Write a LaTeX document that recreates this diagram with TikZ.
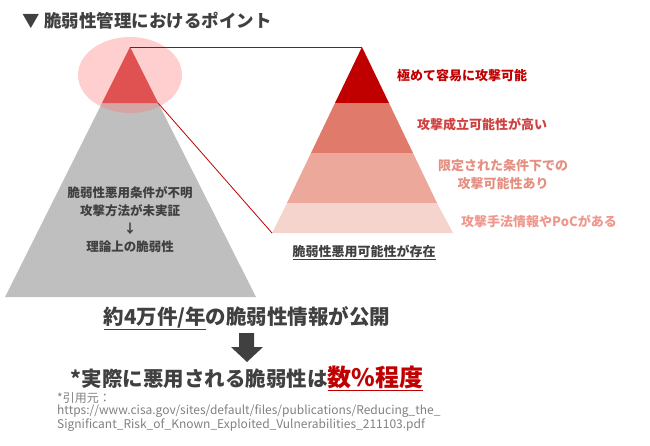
\documentclass[tikz,border=0pt]{standalone}
\usepackage{fontspec}
\setmainfont{Noto Sans CJK JP}
\definecolor{darkred}{HTML}{C00000}
\definecolor{layertwo}{HTML}{E07B6B}
\definecolor{layerthree}{HTML}{EDA89C}
\definecolor{layerfour}{HTML}{F6D4CE}
\definecolor{txtgray}{HTML}{404040}
\begin{document}
\begin{tikzpicture}[x=1pt,y=-1pt,
    label/.style={font=\fontsize{13}{17}\selectfont\bfseries, align=center},
    big/.style={font=\fontsize{20.5}{24}\selectfont\bfseries, text=txtgray},
]
    \useasboundingbox (0,0) rectangle (650,445);
    % title
    \node[anchor=west, font=\fontsize{17.5}{20}\selectfont\bfseries, text=txtgray] (title) at (19,21) {▼ 脆弱性管理におけるポイント};

    % left pyramid
    \fill[gray!50] (130,47) -- (5,297) -- (256,297) -- cycle;
    \fill[darkred!75] (130,47) -- (102,103) -- (158,103) -- cycle;
    \fill[red!40!pink, opacity=0.35] (130,75) ellipse (52 and 38);
    \node[label, text=txtgray, font=\fontsize{12.5}{18}\selectfont\bfseries] (theory) at (130,220) {脆弱性悪用条件が不明\\攻撃方法が未実証\\↓\\理論上の脆弱性};

    % right pyramid
    \fill[darkred] (362,47) -- (335,103) -- (389,103) -- cycle;
    \fill[layertwo] (335,103) -- (389,103) -- (413,153) -- (311,153) -- cycle;
    \fill[layerthree] (311,153) -- (413,153) -- (437,203) -- (287,203) -- cycle;
    \fill[layerfour] (287,203) -- (437,203) -- (453,233) -- (272,233) -- cycle;

    \coordinate (lapex) at (130,47);
    \coordinate (lbase) at (158,103);
    \coordinate (rapex) at (362,47);
    \coordinate (rbase) at (272,233);
    \draw[darkred, thick] (lapex) -- (rapex);
    \draw[darkred, thick] (lbase) -- (rbase);

    \node[label, text=darkred] (l1) at (462,76) {極めて容易に攻撃可能};
    \node[label, text=darkred!75!white] (l2) at (482,125) {攻撃成立可能性が高い};
    \node[label, text=layertwo!85!white, font=\fontsize{13}{18}\selectfont\bfseries] (l3) at (503,175) {限定された条件下での\\攻撃可能性あり};
    \node[label, text=layerthree!90!red] (l4) at (539,221) {攻撃手法情報やPoCがある};
    \node[label, text=txtgray] (exist) at (364,252) {\underline{脆弱性悪用可能性が存在}};

    % bottom
    \node[big] (info) at (247,318) {\underline{約4万件/年}の脆弱性情報が公開};
    \fill[txtgray] (239,333) rectangle (254,347) (231,347) -- (263,347) -- (247,362) -- cycle;
    \node[big, anchor=base] (real) at (247,386) {*実際に悪用される脆弱性は{\color{darkred}\fontsize{24}{28}\selectfont\underline{数\%程度}}};
    \node[anchor=north west, align=left, text=gray, font=\fontsize{12}{12.5}\selectfont, inner sep=0] (cite) at (57,392)
        {*引用元：\\https://www.cisa.gov/sites/default/files/publications/Reducing\_the\_\\Significant\_Risk\_of\_Known\_Exploited\_Vulnerabilities\_211103.pdf};
\end{tikzpicture}
\end{document}
